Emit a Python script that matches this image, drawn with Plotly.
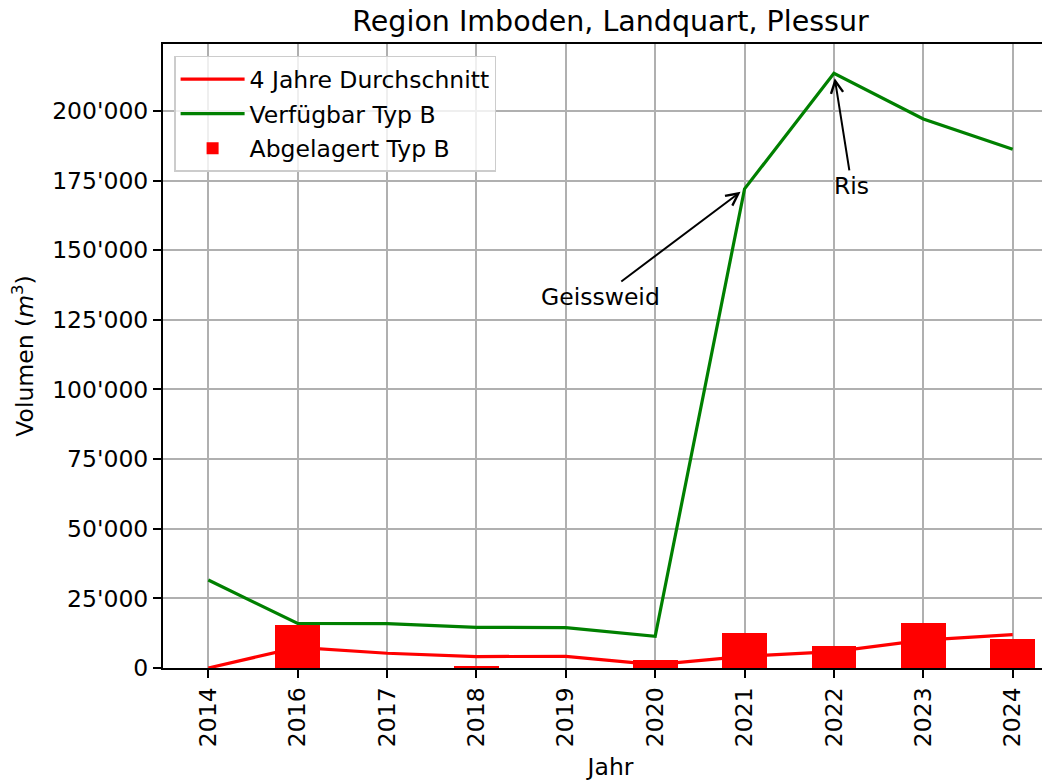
import plotly.graph_objects as go

years = ["2014", "2016", "2017", "2018", "2019", "2020", "2021", "2022", "2023", "2024"]
abgelagert = [0, 15300, 0, 800, 0, 2900, 12700, 8000, 16200, 10500]
durchschnitt = [0, 7400, 5300, 4100, 4200, 1200, 4200, 5900, 10000, 12000]
verfuegbar = [31600, 16000, 15900, 14600, 14500, 11400, 172000, 213500, 197100, 186200]

FONT = "DejaVu Sans"
GRID = "#b0b0b0"
W, H = 1050, 774

fig = go.Figure()
fig.add_trace(go.Scatter(x=years, y=durchschnitt, mode="lines", name="4 Jahre Durchschnitt",
                         line=dict(color="red", width=3.2), legendrank=1, legendgroup="a"))
fig.add_trace(go.Bar(x=years, y=abgelagert, name="Abgelagert Typ B", marker=dict(color="red", line=dict(width=0)),
                     width=0.5, legendrank=3, legendgroup="c"))
fig.add_trace(go.Scatter(x=years, y=verfuegbar, mode="lines", name="Verfügbar Typ B",
                         line=dict(color="green", width=3.2), legendrank=2, legendgroup="b"))

fig.add_annotation(x=6, y=172000, ax=4.39, ay=133200, axref="x", ayref="y", xref="x", yref="y",
                   text="Geissweid", showarrow=True, arrowhead=5, arrowsize=1.2, arrowwidth=2,
                   arrowcolor="black", standoff=5, font=dict(family=FONT, size=23.5, color="black"))
fig.add_annotation(x=7, y=213500, ax=7.2, ay=173100, axref="x", ayref="y", xref="x", yref="y",
                   text="Ris", showarrow=True, arrowhead=5, arrowsize=1.2, arrowwidth=2,
                   arrowcolor="black", standoff=5, font=dict(family=FONT, size=23.5, color="black"))

fig.update_layout(
    width=W, height=H,
    margin=dict(l=155, r=0, t=36, b=114),
    paper_bgcolor="white", plot_bgcolor="white",
    font=dict(family=FONT, size=23.5, color="black"),
    separators=".'",
    title=dict(text="Region Imboden, Landquart, Plessur", xref="paper", x=0.5, xanchor="center",
               y=1 - 13 / H, yanchor="middle", font=dict(family=FONT, size=28.5, color="black")),
    legend=dict(x=0.0124, y=0.981, xanchor="left", yanchor="top",
                bgcolor="rgba(255,255,255,0.8)", bordercolor="#cccccc", borderwidth=1.5,
                itemwidth=64, tracegroupgap=1,
                font=dict(family=FONT, size=23.5, color="black")),
    showlegend=True,
    bargap=0,
)
fig.update_xaxes(type="category", range=[-0.507, 9.507], showgrid=True, gridcolor=GRID, gridwidth=2,
                 showline=True, linecolor="black", linewidth=2, mirror=True,
                 ticks="outside", ticklen=8, tickwidth=2, tickcolor="black", tickangle=-90,
                 title=dict(text="Jahr", font=dict(family=FONT, size=23.5), standoff=12))
fig.update_yaxes(range=[0, 224000], showgrid=True, gridcolor=GRID, gridwidth=2, zeroline=False,
                 showline=True, linecolor="black", linewidth=2, mirror=False,
                 tick0=0, dtick=25000, tickformat=",d",
                 ticks="outside", ticklen=8, tickwidth=2, tickcolor="black",
                 title=dict(text="Volumen (<i>m</i><sup>3</sup>)", font=dict(family=FONT, size=23.5), standoff=12))

fig.write_html("out.html")
